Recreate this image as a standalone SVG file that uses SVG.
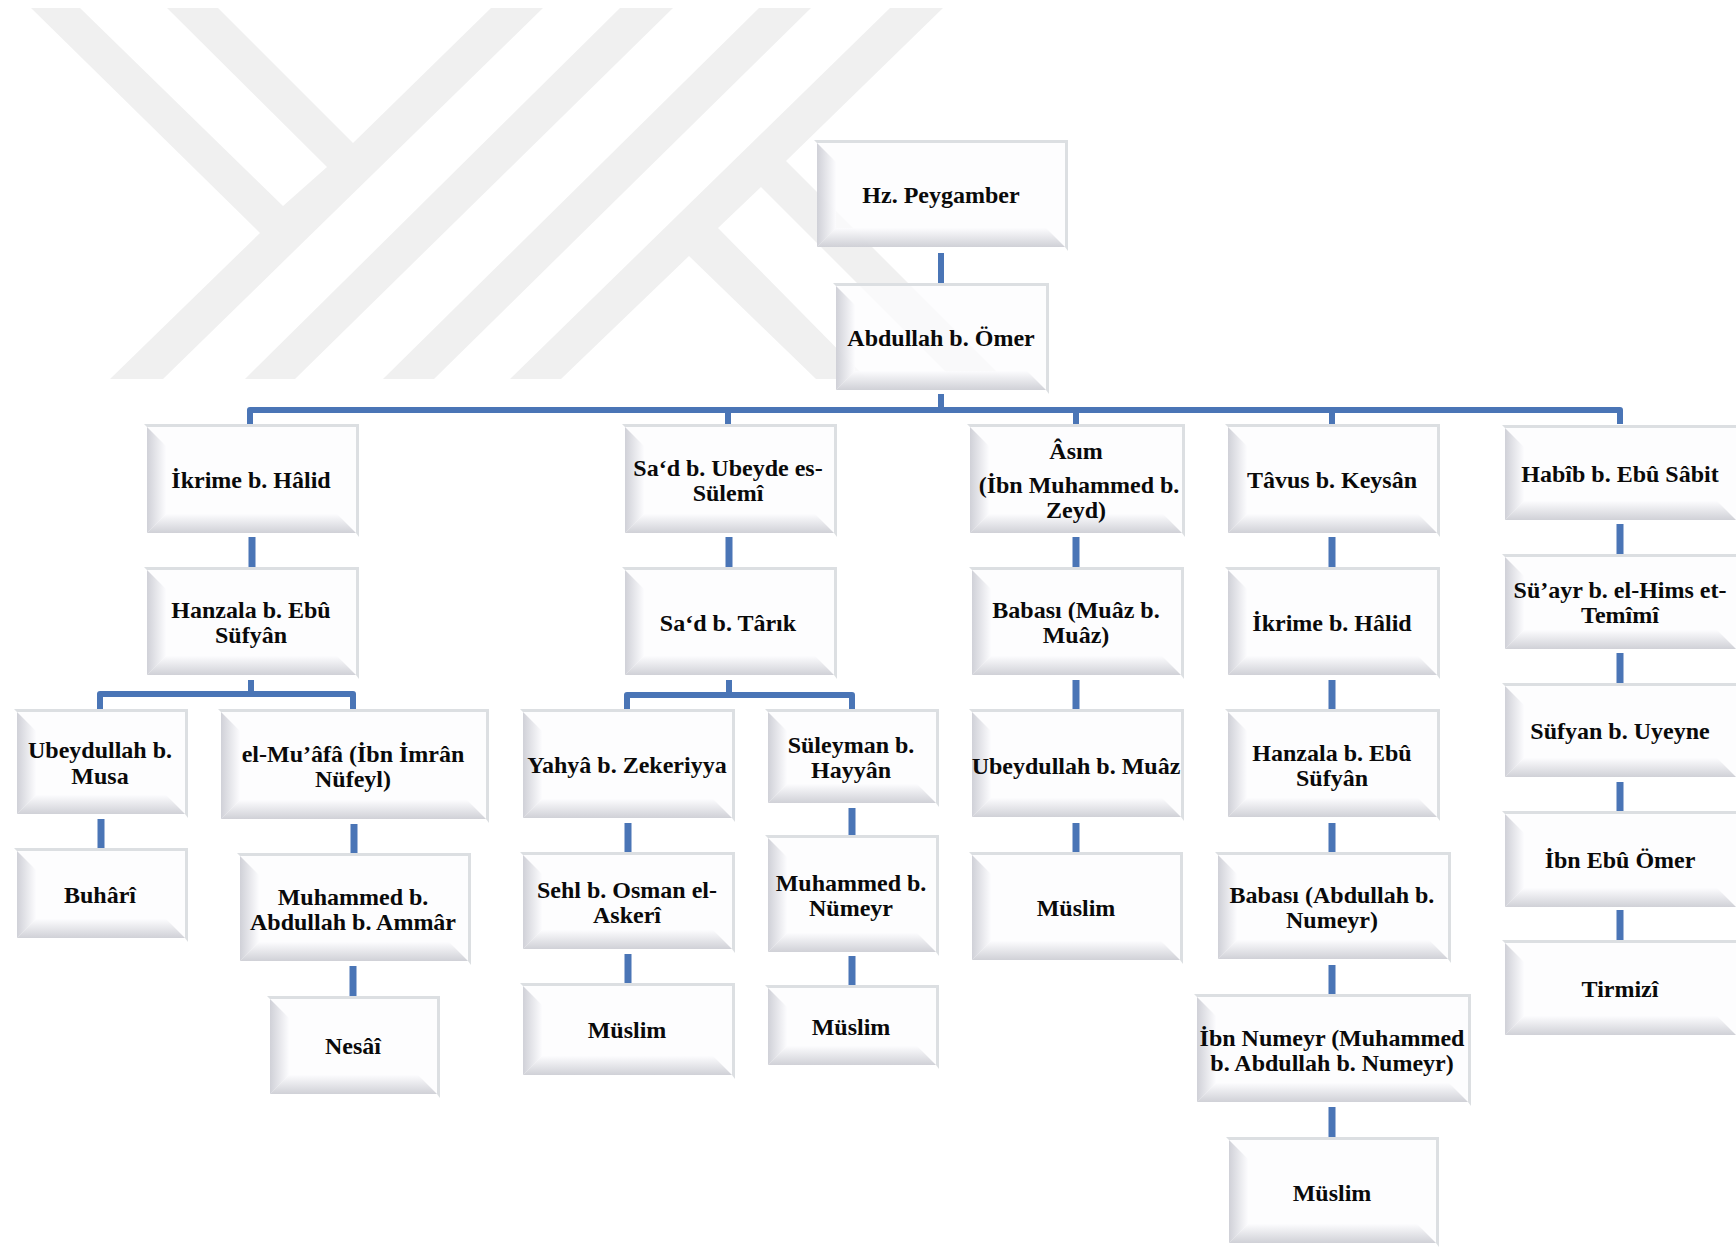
<svg xmlns="http://www.w3.org/2000/svg" width="1736" height="1248" viewBox="0 0 1736 1248">
<style>
.wm{fill:#f0f0f0}
.c{fill:none;stroke:#4a75b6;stroke-width:6;stroke-linejoin:round}
.v{stroke-width:7}
.f{fill:#dcdfe2}
.a{fill:#fcfcfe;fill-opacity:.7}
.l{fill:url(#gl);fill-opacity:.85}
.b{fill:url(#gb);fill-opacity:.85}
text{font-family:"Liberation Serif","Times New Roman",serif;font-weight:bold;font-size:24px;text-anchor:middle;fill:#0a0a0a}
</style>
<defs>
<linearGradient id="gl" x1="0" y1="0" x2="1" y2="0"><stop offset="0" stop-color="#c8c9d1"/><stop offset="1" stop-color="#fcfcfe"/></linearGradient>
<linearGradient id="gb" x1="0" y1="0" x2="0" y2="1"><stop offset="0" stop-color="#fcfcfe"/><stop offset="1" stop-color="#c8c9d0"/></linearGradient>
</defs>
<rect width="1736" height="1248" fill="#ffffff"/>
<g id="watermark">
<polygon class="wm" points="31,8 80,8 283,206 327,167 167,8 218,8 353,143 491,8 543,8 163,379 110,379 260,233"/>
<polygon class="wm" points="620,8 673,8 295,379 245,379"/>
<polygon class="wm" points="759,8 811,8 434,379 383,379"/>
<polygon class="wm" points="890,8 943,8 786,161 1004,379 953,379 761,187 718,228 867,379 816,379 689,256 561,379 510,379"/>
</g>
<g id="connectors">
<path class="c" d="M941 253V283M941 394V410M250 424V410H1620V424M728 410V424M1076 410V424M1332 410V424"/>
<path class="c" d="M251 680V694M100 709V694H353V709"/>
<path class="c v" d="M252 537V567M101 819V848M354 824V854M353 966V997"/>
<path class="c" d="M729 680V695M627 709V695H852V709"/>
<path class="c v" d="M729 537V567M628 823V853M628 954V984M852 808V836M852 956V986"/>
<path class="c v" d="M1076 537V567M1076 680V709M1076 823V852"/>
<path class="c v" d="M1332 537V567M1332 680V709M1332 823V852M1332 965V995M1332 1107V1137"/>
<path class="c v" d="M1620 524V555M1620 653V683M1620 782V812M1620 910V941"/>
</g>
<g id="n-hz"><path class="f" d="M814 140H1068V251L1065 247V143H817Z"/><rect class="a" x="817" y="143" width="248" height="104"/><path class="l" d="M817 143L836 162V228L817 247Z"/><path class="b" d="M817 247L836 228H1046L1065 247Z"/><text x="941" y="203">Hz. Peygamber</text></g>
<g id="n-abd"><path class="f" d="M833 283H1049V394L1046 390V286H836Z"/><rect class="a" x="836" y="286" width="210" height="104"/><path class="l" d="M836 286L855 305V371L836 390Z"/><path class="b" d="M836 390L855 371H1027L1046 390Z"/><text x="941" y="346">Abdullah b. Ömer</text></g>
<g id="n-ikrime1"><path class="f" d="M144 424H359V537L356 533V427H147Z"/><rect class="a" x="147" y="427" width="209" height="106"/><path class="l" d="M147 427L166 446V514L147 533Z"/><path class="b" d="M147 533L166 514H337L356 533Z"/><text x="251" y="488">İkrime b. Hâlid</text></g>
<g id="n-hanzala1"><path class="f" d="M144 567H359V679L356 675V570H147Z"/><rect class="a" x="147" y="570" width="209" height="105"/><path class="l" d="M147 570L166 589V656L147 675Z"/><path class="b" d="M147 675L166 656H337L356 675Z"/><text x="251" y="618">Hanzala b. Ebû</text><text x="251" y="643">Süfyân</text></g>
<g id="n-ubeydullah-musa"><path class="f" d="M14 709H188V818L185 814V712H17Z"/><rect class="a" x="17" y="712" width="168" height="102"/><path class="l" d="M17 712L36 731V795L17 814Z"/><path class="b" d="M17 814L36 795H166L185 814Z"/><text x="100" y="758">Ubeydullah b.</text><text x="100" y="784">Musa</text></g>
<g id="n-muafa"><path class="f" d="M218 709H489V823L486 819V712H221Z"/><rect class="a" x="221" y="712" width="265" height="107"/><path class="l" d="M221 712L240 731V800L221 819Z"/><path class="b" d="M221 819L240 800H467L486 819Z"/><text x="353" y="762">el-Mu’âfâ (İbn İmrân</text><text x="353" y="787">Nüfeyl)</text></g>
<g id="n-buhari"><path class="f" d="M14 848H188V942L185 938V851H17Z"/><rect class="a" x="17" y="851" width="168" height="87"/><path class="l" d="M17 851L36 870V919L17 938Z"/><path class="b" d="M17 938L36 919H166L185 938Z"/><text x="100" y="903">Buhârî</text></g>
<g id="n-muhammed-ammar"><path class="f" d="M237 853H471V965L468 961V856H240Z"/><rect class="a" x="240" y="856" width="228" height="105"/><path class="l" d="M240 856L259 875V942L240 961Z"/><path class="b" d="M240 961L259 942H449L468 961Z"/><text x="353" y="905">Muhammed b.</text><text x="353" y="930">Abdullah b. Ammâr</text></g>
<g id="n-nesai"><path class="f" d="M267 996H440V1098L437 1094V999H270Z"/><rect class="a" x="270" y="999" width="167" height="95"/><path class="l" d="M270 999L289 1018V1075L270 1094Z"/><path class="b" d="M270 1094L289 1075H418L437 1094Z"/><text x="353" y="1054">Nesâî</text></g>
<g id="n-sad-ubeyde"><path class="f" d="M622 424H837V537L834 533V427H625Z"/><rect class="a" x="625" y="427" width="209" height="106"/><path class="l" d="M625 427L644 446V514L625 533Z"/><path class="b" d="M625 533L644 514H815L834 533Z"/><text x="728" y="476">Sa‘d b. Ubeyde es-</text><text x="728" y="501">Sülemî</text></g>
<g id="n-sad-tarik"><path class="f" d="M622 567H837V679L834 675V570H625Z"/><rect class="a" x="625" y="570" width="209" height="105"/><path class="l" d="M625 570L644 589V656L625 675Z"/><path class="b" d="M625 675L644 656H815L834 675Z"/><text x="728" y="631">Sa‘d b. Târık</text></g>
<g id="n-yahya"><path class="f" d="M520 709H735V822L732 818V712H523Z"/><rect class="a" x="523" y="712" width="209" height="106"/><path class="l" d="M523 712L542 731V799L523 818Z"/><path class="b" d="M523 818L542 799H713L732 818Z"/><text x="627" y="773">Yahyâ b. Zekeriyya</text></g>
<g id="n-suleyman"><path class="f" d="M765 709H939V807L936 803V712H768Z"/><rect class="a" x="768" y="712" width="168" height="91"/><path class="l" d="M768 712L787 731V784L768 803Z"/><path class="b" d="M768 803L787 784H917L936 803Z"/><text x="851" y="753">Süleyman b.</text><text x="851" y="778">Hayyân</text></g>
<g id="n-sehl"><path class="f" d="M520 852H735V953L732 949V855H523Z"/><rect class="a" x="523" y="855" width="209" height="94"/><path class="l" d="M523 855L542 874V930L523 949Z"/><path class="b" d="M523 949L542 930H713L732 949Z"/><text x="627" y="898">Sehl b. Osman el-</text><text x="627" y="923">Askerî</text></g>
<g id="n-muslim1"><path class="f" d="M520 983H735V1079L732 1075V986H523Z"/><rect class="a" x="523" y="986" width="209" height="89"/><path class="l" d="M523 986L542 1005V1056L523 1075Z"/><path class="b" d="M523 1075L542 1056H713L732 1075Z"/><text x="627" y="1038">Müslim</text></g>
<g id="n-muhammed-numeyr"><path class="f" d="M765 835H939V956L936 952V838H768Z"/><rect class="a" x="768" y="838" width="168" height="114"/><path class="l" d="M768 838L787 857V933L768 952Z"/><path class="b" d="M768 952L787 933H917L936 952Z"/><text x="851" y="891">Muhammed b.</text><text x="851" y="916">Nümeyr</text></g>
<g id="n-muslim2"><path class="f" d="M765 985H939V1069L936 1065V988H768Z"/><rect class="a" x="768" y="988" width="168" height="77"/><path class="l" d="M768 988L787 1007V1046L768 1065Z"/><path class="b" d="M768 1065L787 1046H917L936 1065Z"/><text x="851" y="1035">Müslim</text></g>
<g id="n-asim"><path class="f" d="M967 424H1185V537L1182 533V427H970Z"/><rect class="a" x="970" y="427" width="212" height="106"/><path class="l" d="M970 427L989 446V514L970 533Z"/><path class="b" d="M970 533L989 514H1163L1182 533Z"/><text x="1076" y="459">Âsım</text><text x="1079" y="493">(İbn Muhammed b.</text><text x="1076" y="518">Zeyd)</text></g>
<g id="n-babasi-muaz"><path class="f" d="M969 567H1184V679L1181 675V570H972Z"/><rect class="a" x="972" y="570" width="209" height="105"/><path class="l" d="M972 570L991 589V656L972 675Z"/><path class="b" d="M972 675L991 656H1162L1181 675Z"/><text x="1076" y="618">Babası (Muâz b.</text><text x="1076" y="643">Muâz)</text></g>
<g id="n-ubeydullah-muaz"><path class="f" d="M969 709H1184V821L1181 817V712H972Z"/><rect class="a" x="972" y="712" width="209" height="105"/><path class="l" d="M972 712L991 731V798L972 817Z"/><path class="b" d="M972 817L991 798H1162L1181 817Z"/><text x="1076" y="774">Ubeydullah b. Muâz</text></g>
<g id="n-muslim3"><path class="f" d="M969 852H1183V964L1180 960V855H972Z"/><rect class="a" x="972" y="855" width="208" height="105"/><path class="l" d="M972 855L991 874V941L972 960Z"/><path class="b" d="M972 960L991 941H1161L1180 960Z"/><text x="1076" y="916">Müslim</text></g>
<g id="n-tavus"><path class="f" d="M1225 424H1440V537L1437 533V427H1228Z"/><rect class="a" x="1228" y="427" width="209" height="106"/><path class="l" d="M1228 427L1247 446V514L1228 533Z"/><path class="b" d="M1228 533L1247 514H1418L1437 533Z"/><text x="1332" y="488">Tâvus b. Keysân</text></g>
<g id="n-ikrime2"><path class="f" d="M1225 567H1440V679L1437 675V570H1228Z"/><rect class="a" x="1228" y="570" width="209" height="105"/><path class="l" d="M1228 570L1247 589V656L1228 675Z"/><path class="b" d="M1228 675L1247 656H1418L1437 675Z"/><text x="1332" y="631">İkrime b. Hâlid</text></g>
<g id="n-hanzala2"><path class="f" d="M1225 709H1440V821L1437 817V712H1228Z"/><rect class="a" x="1228" y="712" width="209" height="105"/><path class="l" d="M1228 712L1247 731V798L1228 817Z"/><path class="b" d="M1228 817L1247 798H1418L1437 817Z"/><text x="1332" y="761">Hanzala b. Ebû</text><text x="1332" y="786">Süfyân</text></g>
<g id="n-babasi-abdullah"><path class="f" d="M1215 852H1451V963L1448 959V855H1218Z"/><rect class="a" x="1218" y="855" width="230" height="104"/><path class="l" d="M1218 855L1237 874V940L1218 959Z"/><path class="b" d="M1218 959L1237 940H1429L1448 959Z"/><text x="1332" y="903">Babası (Abdullah b.</text><text x="1332" y="928">Numeyr)</text></g>
<g id="n-ibn-numeyr"><path class="f" d="M1194 994H1471V1106L1468 1102V997H1197Z"/><rect class="a" x="1197" y="997" width="271" height="105"/><path class="l" d="M1197 997L1216 1016V1083L1197 1102Z"/><path class="b" d="M1197 1102L1216 1083H1449L1468 1102Z"/><text x="1332" y="1046">İbn Numeyr (Muhammed</text><text x="1332" y="1071">b. Abdullah b. Numeyr)</text></g>
<g id="n-muslim4"><path class="f" d="M1226 1137H1439V1247L1436 1243V1140H1229Z"/><rect class="a" x="1229" y="1140" width="207" height="103"/><path class="l" d="M1229 1140L1248 1159V1224L1229 1243Z"/><path class="b" d="M1229 1243L1248 1224H1417L1436 1243Z"/><text x="1332" y="1201">Müslim</text></g>
<g id="n-habib"><path class="f" d="M1502 425H1739V524L1736 520V428H1505Z"/><rect class="a" x="1505" y="428" width="231" height="92"/><path class="l" d="M1505 428L1524 447V501L1505 520Z"/><path class="b" d="M1505 520L1524 501H1717L1736 520Z"/><text x="1620" y="482">Habîb b. Ebû Sâbit</text></g>
<g id="n-suayr"><path class="f" d="M1502 554H1739V653L1736 649V557H1505Z"/><rect class="a" x="1505" y="557" width="231" height="92"/><path class="l" d="M1505 557L1524 576V630L1505 649Z"/><path class="b" d="M1505 649L1524 630H1717L1736 649Z"/><text x="1620" y="598">Sü’ayr b. el-Hims et-</text><text x="1620" y="623">Temîmî</text></g>
<g id="n-sufyan"><path class="f" d="M1502 683H1739V781L1736 777V686H1505Z"/><rect class="a" x="1505" y="686" width="231" height="91"/><path class="l" d="M1505 686L1524 705V758L1505 777Z"/><path class="b" d="M1505 777L1524 758H1717L1736 777Z"/><text x="1620" y="739">Süfyan b. Uyeyne</text></g>
<g id="n-ibn-ebu-omer"><path class="f" d="M1502 811H1739V911L1736 907V814H1505Z"/><rect class="a" x="1505" y="814" width="231" height="93"/><path class="l" d="M1505 814L1524 833V888L1505 907Z"/><path class="b" d="M1505 907L1524 888H1717L1736 907Z"/><text x="1620" y="868">İbn Ebû Ömer</text></g>
<g id="n-tirmizi"><path class="f" d="M1502 940H1739V1039L1736 1035V943H1505Z"/><rect class="a" x="1505" y="943" width="231" height="92"/><path class="l" d="M1505 943L1524 962V1016L1505 1035Z"/><path class="b" d="M1505 1035L1524 1016H1717L1736 1035Z"/><text x="1620" y="997">Tirmizî</text></g>
</svg>
